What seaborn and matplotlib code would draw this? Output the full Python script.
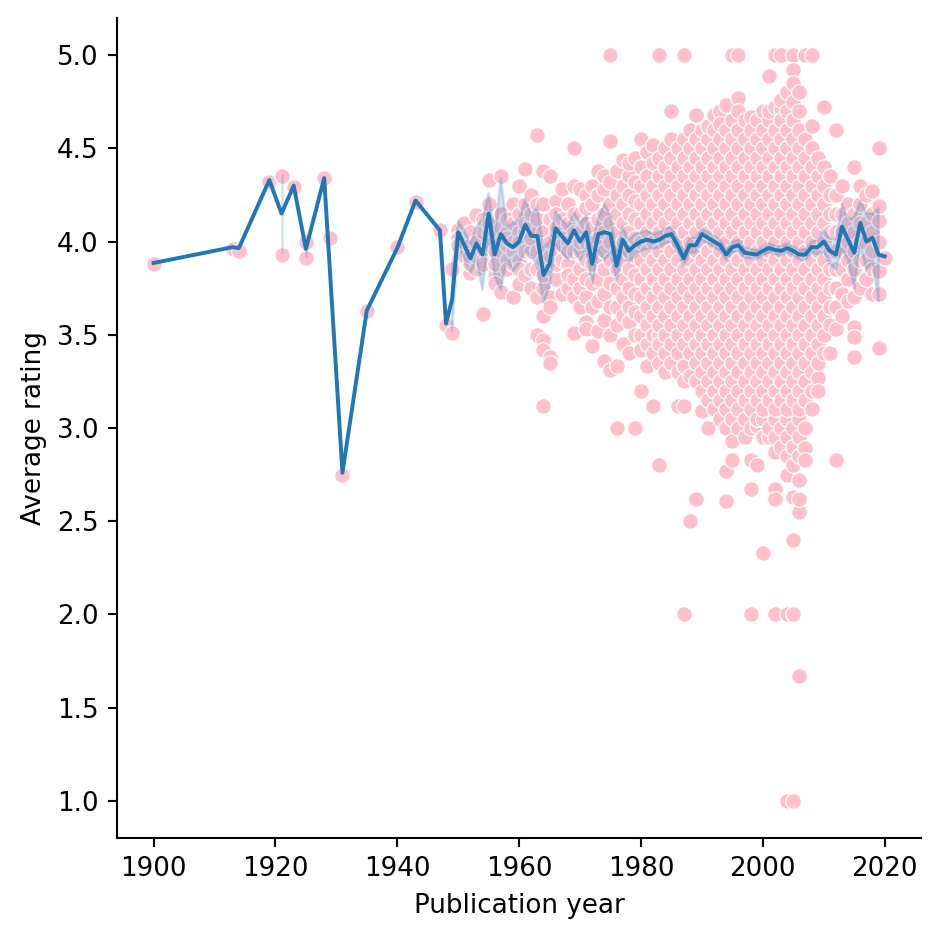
import matplotlib
matplotlib.use("Agg")
import matplotlib.pyplot as plt
import seaborn as sns
import pandas as pd
import numpy as np

nan = np.nan

# individual books: publication year -> average ratings
point_years = [1900, 1913, 1914, 1919, 1921, 1923, 1925, 1928, 1929, 1931,
               1935, 1940, 1943, 1947, 1948, 1949,
               1950, 1951, 1952, 1953, 1954, 1955, 1956, 1957, 1958, 1959,
               1960, 1961, 1962, 1963, 1964, 1965, 1966, 1967, 1968, 1969,
               1970, 1971, 1972, 1973, 1974, 1975, 1976, 1977, 1978, 1979,
               1980, 1981, 1982, 1983, 1984, 1985, 1986, 1987, 1988, 1989,
               1990, 1991, 1992, 1993, 1994, 1995, 1996, 1997, 1998, 1999,
               2000, 2001, 2002, 2003, 2004, 2005, 2006, 2007, 2008, 2009,
               2010, 2011, 2012, 2013, 2014, 2015, 2016, 2017, 2018, 2019,
               2020]

point_ratings = [
    [3.88], [3.96], [3.95], [4.32], [4.35, 3.93], [4.29], [4.00, 3.91],
    [4.34], [4.02], [2.75], [3.63], [3.97], [4.21], [4.06], [3.55],
    [3.85, 3.51],
    # 1950s
    [4.06, 4.02, 3.98],
    [4.10, 3.92, 4.00],
    [3.83, 3.98, 4.05, 3.88, 3.92],
    [4.14, 3.85, 4.00, 3.92],
    [3.61, 3.90, 4.05, 4.12, 3.96, 3.88],
    [4.33, 4.20, 4.05, 4.10, 3.98],
    [3.82, 3.95, 4.10, 3.78, 4.05, 3.88],
    [4.35, 3.73, 4.00, 4.15, 3.95, 4.08],
    [3.90, 4.05, 3.85, 4.12, 3.98, 4.02],
    [3.70, 3.95, 4.10, 4.20, 3.88, 4.00],
    # 1960s
    [4.30, 3.77, 4.05, 3.90, 4.15, 3.85, 4.00],
    [4.39, 4.20, 4.05, 3.95, 3.82, 4.10],
    [4.25, 3.85, 4.10, 3.95, 4.02, 3.75, 4.15],
    [4.57, 3.50, 4.20, 3.85, 4.05, 3.95, 4.12, 3.70],
    [4.38, 3.47, 3.42, 3.12, 3.60, 3.75, 3.90, 4.05, 4.20, 3.82, 3.98],
    [4.35, 3.38, 3.35, 3.70, 3.85, 4.00, 4.12, 3.65, 3.92],
    [4.22, 3.80, 3.95, 4.05, 4.15, 3.88, 4.08],
    [4.28, 3.72, 3.90, 4.02, 4.12, 3.98],
    [4.20, 3.75, 3.88, 4.00, 4.10, 3.95, 3.82],
    [4.50, 3.51, 4.30, 3.80, 3.95, 4.05, 4.15, 3.70],
    # 1970s
    [4.28, 3.65, 3.85, 3.95, 4.05, 4.15, 3.75, 4.00],
    [4.25, 3.57, 3.53, 3.80, 3.90, 4.00, 4.10, 3.70, 4.18],
    [4.30, 3.44, 3.65, 3.78, 3.88, 3.98, 4.08, 4.20],
    [4.38, 3.52, 3.68, 3.80, 3.92, 4.02, 4.12, 4.25],
    [4.28, 3.36, 3.58, 3.72, 3.85, 3.95, 4.05, 4.15, 4.35],
    [5.00, 4.54, 3.31, 3.50, 3.65, 3.78, 3.90, 4.00, 4.10, 4.20, 4.32],
    [3.00, 3.33, 3.55, 3.65, 3.75, 3.85, 3.95, 4.05, 4.15, 4.25, 4.38],
    [3.45, 3.60, 3.70, 3.80, 3.90, 4.00, 4.10, 4.20, 4.30, 4.44],
    [3.57, 3.40, 3.65, 3.75, 3.85, 3.95, 4.05, 4.15, 4.25, 4.35, 4.42],
    [3.00, 3.50, 3.62, 3.72, 3.82, 3.92, 4.02, 4.12, 4.22, 4.32, 4.45],
    # 1980s
    [3.20, 3.42, 4.55, 3.50, 3.60, 3.70, 3.80, 3.90, 4.00, 4.10, 4.20, 4.30, 4.40],
    [3.33, 3.45, 3.55, 3.65, 3.75, 3.85, 3.95, 4.05, 4.15, 4.25, 4.35, 4.48],
    [3.12, 3.40, 3.50, 3.60, 3.70, 3.80, 3.90, 4.00, 4.10, 4.20, 4.30, 4.42, 4.52],
    [5.00, 2.80, 3.50, 3.35, 3.45, 3.55, 3.65, 3.75, 3.85, 3.95, 4.05, 4.15,
     4.25, 4.35, 4.45],
    [3.30, 3.40, 3.50, 3.60, 3.70, 3.80, 3.90, 4.00, 4.10, 4.20, 4.30, 4.40, 4.50],
    [4.70, 3.35, 3.45, 3.55, 3.65, 3.75, 3.85, 3.95, 4.05, 4.15, 4.25, 4.35,
     4.45, 4.55],
    [3.12, 3.30, 3.40, 3.50, 3.60, 3.70, 3.80, 3.90, 4.00, 4.10, 4.20, 4.30,
     4.40, 4.50],
    [5.00, 2.00, 3.12, 3.25, 3.33, 3.45, 3.55, 3.65, 3.75, 3.85, 3.95, 4.05,
     4.15, 4.25, 4.35, 4.45, 4.55],
    [2.50, 3.28, 3.40, 3.50, 3.60, 3.70, 3.80, 3.90, 4.00, 4.10, 4.20, 4.30,
     4.40, 4.50, 4.60],
    [2.62, 4.68, 3.25, 3.35, 3.45, 3.55, 3.65, 3.75, 3.85, 3.95, 4.05, 4.15,
     4.25, 4.35, 4.45, 4.55],
    # 1990s
    [3.09, 3.20, 3.30, 3.40, 3.50, 3.60, 3.70, 3.80, 3.90, 4.00, 4.10, 4.20,
     4.30, 4.40, 4.50, 4.60],
    [3.00, 3.15, 3.25, 3.35, 3.45, 3.55, 3.65, 3.75, 3.85, 3.95, 4.05, 4.15,
     4.25, 4.35, 4.45, 4.55, 4.62],
    [3.10, 3.20, 3.30, 3.40, 3.50, 3.60, 3.70, 3.80, 3.90, 4.00, 4.10, 4.20,
     4.30, 4.40, 4.50, 4.60, 4.68],
    [4.70, 3.05, 3.15, 3.25, 3.35, 3.45, 3.55, 3.65, 3.75, 3.85, 3.95, 4.05,
     4.15, 4.25, 4.35, 4.45, 4.55, 4.63],
    [2.77, 2.61, 4.73, 3.00, 3.10, 3.20, 3.30, 3.40, 3.50, 3.60, 3.70, 3.80,
     3.90, 4.00, 4.10, 4.20, 4.30, 4.40, 4.50, 4.60],
    [5.00, 2.93, 2.83, 3.05, 3.15, 3.25, 3.35, 3.45, 3.55, 3.65, 3.75, 3.85,
     3.95, 4.05, 4.15, 4.25, 4.35, 4.45, 4.55, 4.65],
    [5.00, 4.77, 3.00, 3.10, 3.20, 3.30, 3.40, 3.50, 3.60, 3.70, 3.80, 3.90,
     4.00, 4.10, 4.20, 4.30, 4.40, 4.50, 4.60, 4.70],
    [2.95, 3.05, 3.15, 3.25, 3.35, 3.45, 3.55, 3.65, 3.75, 3.85, 3.95, 4.05,
     4.15, 4.25, 4.35, 4.45, 4.55, 4.65],
    [2.00, 2.83, 2.67, 4.67, 3.00, 3.10, 3.20, 3.30, 3.40, 3.50, 3.60, 3.70,
     3.80, 3.90, 4.00, 4.10, 4.20, 4.30, 4.40, 4.50, 4.60],
    [2.80, 3.01, 3.05, 3.15, 3.25, 3.35, 3.45, 3.55, 3.65, 3.75, 3.85, 3.95,
     4.05, 4.15, 4.25, 4.35, 4.45, 4.55, 4.65],
    # 2000s
    [2.33, 2.95, 3.05, 3.10, 3.20, 3.30, 3.40, 3.50, 3.60, 3.70, 3.80, 3.90,
     4.00, 4.10, 4.20, 4.30, 4.40, 4.50, 4.60, 4.70],
    [4.89, 2.95, 3.00, 3.15, 3.25, 3.35, 3.45, 3.55, 3.65, 3.75, 3.85, 3.95,
     4.05, 4.15, 4.25, 4.35, 4.45, 4.55, 4.65, 4.70],
    [5.00, 2.00, 2.87, 2.67, 2.62, 2.95, 3.05, 3.10, 3.20, 3.30, 3.40, 3.50,
     3.60, 3.70, 3.80, 3.90, 4.00, 4.10, 4.20, 4.30, 4.40, 4.50, 4.60, 4.72],
    [5.00, 4.71, 2.90, 3.00, 3.15, 3.25, 3.35, 3.45, 3.55, 3.65, 3.75, 3.85,
     3.95, 4.05, 4.15, 4.25, 4.35, 4.45, 4.55, 4.65, 4.76],
    [1.00, 2.00, 2.75, 2.85, 2.95, 3.05, 3.10, 3.20, 3.30, 3.40, 3.50, 3.60,
     3.70, 3.80, 3.90, 4.00, 4.10, 4.20, 4.30, 4.40, 4.50, 4.60, 4.70, 4.80],
    [5.00, 4.92, 4.85, 1.00, 2.00, 2.40, 2.63, 2.80, 2.90, 3.00, 3.15, 3.25,
     3.35, 3.45, 3.55, 3.65, 3.75, 3.85, 3.95, 4.05, 4.15, 4.25, 4.35, 4.45,
     4.55, 4.65, 4.75],
    [4.80, 1.67, 2.72, 2.55, 2.62, 2.85, 2.95, 3.05, 3.10, 3.20, 3.30, 3.40,
     3.50, 3.60, 3.70, 3.80, 3.90, 4.00, 4.10, 4.20, 4.30, 4.40, 4.50, 4.60,
     4.70],
    [5.00, 5.00, 2.89, 2.83, 3.00, 3.15, 3.25, 3.35, 3.45, 3.55, 3.65, 3.75,
     3.85, 3.95, 4.05, 4.15, 4.25, 4.35, 4.45, 4.55],
    [5.00, 3.10, 3.20, 3.30, 3.40, 3.50, 3.60, 3.70, 3.80, 3.90, 4.00, 4.10,
     4.20, 4.30, 4.40, 4.50, 4.62],
    [3.27, 3.20, 3.35, 3.45, 3.55, 3.65, 3.75, 3.85, 3.95, 4.05, 4.15, 4.25,
     4.35, 4.45],
    # 2010s
    [4.72, 3.40, 3.50, 3.60, 3.70, 3.80, 3.90, 4.00, 4.10, 4.20, 4.30, 4.40],
    [3.40, 3.55, 3.65, 3.75, 3.85, 3.95, 4.05, 4.15, 4.25, 4.35],
    [4.60, 2.83, 3.53, 3.65, 3.75, 3.85, 3.95, 4.05, 4.15, 4.25],
    [3.60, 3.72, 3.85, 3.95, 4.05, 4.15, 4.30],
    [3.68, 3.80, 3.90, 4.00, 4.10, 4.20],
    [3.54, 3.49, 3.38, 3.70, 3.85, 3.95, 4.05, 4.15, 4.40],
    [3.75, 3.90, 4.00, 4.10, 4.20, 4.30],
    [3.80, 3.90, 4.00, 4.10, 4.25],
    [3.72, 3.85, 3.95, 4.05, 4.15, 4.27],
    [4.50, 3.43, 3.72, 3.84, 4.00, 4.11, 4.19],
    [3.91],
]

# yearly mean rating and half-width of its confidence band
# (no band for years with a single book)
line_years = [1900, 1913, 1914, 1919, 1921, 1923, 1925, 1928, 1931, 1935,
              1940, 1943, 1947, 1948, 1949,
              1950, 1951, 1952, 1953, 1954, 1955, 1956, 1957, 1958, 1959,
              1960, 1961, 1962, 1963, 1964, 1965, 1966, 1967, 1968, 1969,
              1970, 1971, 1972, 1973, 1974, 1975, 1976, 1977, 1978, 1979,
              1980, 1981, 1982, 1983, 1984, 1985, 1986, 1987, 1988, 1989,
              1990, 1991, 1992, 1993, 1994, 1995, 1996, 1997, 1998, 1999,
              2000, 2001, 2002, 2003, 2004, 2005, 2006, 2007, 2008, 2009,
              2010, 2011, 2012, 2013, 2014, 2015, 2016, 2017, 2018, 2019,
              2020]
line_mean = [3.885, 3.97, 3.965, 4.33, 4.15, 4.30, 3.96, 4.34, 2.76, 3.63,
             3.965, 4.22, 4.06, 3.56, 3.69,
             4.05, 3.98, 3.91, 3.99, 3.93, 4.15, 3.93, 4.04, 3.99, 3.97,
             4.00, 4.09, 4.03, 4.03, 3.82, 3.88, 4.07, 4.03, 3.99, 4.06,
             4.00, 4.05, 3.88, 4.04, 4.05, 4.04, 3.87, 4.01, 3.95, 3.98,
             4.00, 4.01, 4.00, 4.01, 4.03, 4.04, 3.98, 3.91, 3.98, 3.98,
             4.04, 4.02, 4.00, 3.98, 3.93, 3.97, 3.98, 3.94, 3.935, 3.93,
             3.95, 3.965, 3.955, 3.95, 3.965, 3.95, 3.93, 3.93, 3.97, 3.97,
             4.00, 3.95, 3.93, 4.08, 4.01, 3.94, 4.10, 4.00, 4.02, 3.93,
             3.92]
line_err = [nan, nan, nan, nan, 0.21, nan, 0.045, nan, nan, nan,
            nan, nan, nan, nan, 0.17,
            0.06, 0.08, 0.08, 0.09, 0.19, 0.11, 0.12, 0.30, 0.09, 0.13,
            0.12, 0.14, 0.11, 0.16, 0.15, 0.12, 0.09, 0.09, 0.09, 0.10,
            0.10, 0.09, 0.11, 0.09, 0.15, 0.10, 0.08, 0.07, 0.06, 0.06,
            0.05, 0.05, 0.04, 0.04, 0.04, 0.04, 0.04, 0.04, 0.04, 0.04,
            0.03, 0.03, 0.03, 0.03, 0.03, 0.03, 0.03, 0.03, 0.025, 0.025,
            0.025, 0.025, 0.025, 0.025, 0.025, 0.025, 0.025, 0.03, 0.03, 0.04,
            0.06, 0.07, 0.08, 0.12, 0.11, 0.19, 0.12, 0.15, 0.13, 0.25,
            nan]

# long table for the scatter
df = pd.DataFrame({
    "year": [y for y, rs in zip(point_years, point_ratings) for _ in rs],
    "rating": [r for rs in point_ratings for r in rs],
})

g = sns.relplot(data=df, x="year", y="rating", color="pink", height=5)
ax = g.ax

lo = np.array(line_mean) - np.array(line_err)
hi = np.array(line_mean) + np.array(line_err)
ax.fill_between(line_years, lo, hi, color="tab:blue", alpha=0.2)
sns.lineplot(x=line_years, y=line_mean, ax=ax, color="tab:blue", errorbar=None)

g.set_axis_labels("Publication year", "Average rating")
ax.set_xticks([1900, 1920, 1940, 1960, 1980, 2000, 2020])
ax.set_yticks([1.0, 1.5, 2.0, 2.5, 3.0, 3.5, 4.0, 4.5, 5.0])

# axes box placed as in the cropped original
g.figure.subplots_adjust(left=0.1245, right=0.98, bottom=0.1085, top=0.981)
g.figure.savefig("out.png", dpi=188)
